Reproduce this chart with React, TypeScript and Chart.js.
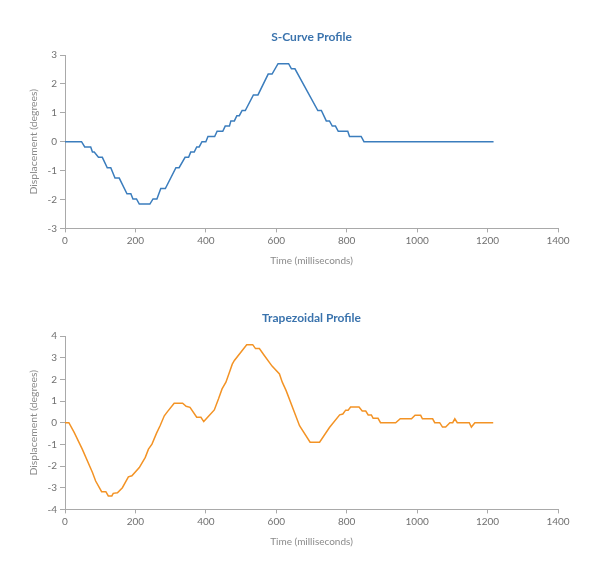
import React, { useEffect, useRef } from "react";
import { Chart, registerables } from "chart.js";

Chart.register(...registerables);

// S-Curve profile (time ms, displacement degrees)
const sCurveTime = [0, 47, 56, 73, 78, 83, 95, 106, 120, 130, 142, 154, 176, 187, 193, 203, 211, 241, 250, 261, 272, 285, 315, 324, 341, 351, 357, 367, 374, 381, 389, 400, 406, 425, 432, 448, 455, 467, 471, 481, 488, 495, 503, 512, 535, 548, 577, 588, 605, 635, 643, 653, 718, 728, 742, 751, 759, 768, 776, 803, 808, 841, 849, 1217];
const sCurveDisp = [0, 0, -0.18, -0.18, -0.36, -0.36, -0.54, -0.54, -0.9, -0.9, -1.26, -1.26, -1.8, -1.8, -1.98, -1.98, -2.16, -2.16, -1.98, -1.98, -1.62, -1.62, -0.9, -0.9, -0.54, -0.54, -0.36, -0.36, -0.18, -0.18, 0, 0, 0.18, 0.18, 0.36, 0.36, 0.54, 0.54, 0.72, 0.72, 0.9, 0.9, 1.08, 1.08, 1.62, 1.62, 2.34, 2.34, 2.7, 2.7, 2.52, 2.52, 1.08, 1.08, 0.72, 0.72, 0.54, 0.54, 0.36, 0.36, 0.18, 0.18, 0, 0];

// Trapezoidal profile (time ms, displacement degrees)
const trapTime = [0, 11, 26, 49, 78, 87, 104, 116, 123, 133, 137, 149, 163, 180, 190, 211, 228, 237, 247, 260, 270, 282, 291, 310, 334, 344, 355, 374, 386, 394, 405, 424, 436, 446, 457, 467, 475, 481, 516, 533, 541, 552, 566, 588, 609, 617, 628, 666, 696, 723, 751, 780, 789, 797, 804, 811, 835, 844, 854, 861, 870, 875, 889, 896, 939, 952, 984, 994, 1010, 1015, 1044, 1050, 1064, 1072, 1081, 1093, 1101, 1107, 1114, 1148, 1154, 1164, 1216];
const trapDisp = [0, 0, -0.45, -1.22, -2.3, -2.69, -3.18, -3.18, -3.38, -3.38, -3.26, -3.23, -3.0, -2.5, -2.45, -2.07, -1.6, -1.22, -0.99, -0.48, -0.14, 0.32, 0.51, 0.9, 0.9, 0.76, 0.71, 0.25, 0.25, 0.05, 0.25, 0.59, 1.1, 1.56, 1.87, 2.33, 2.7, 2.87, 3.6, 3.6, 3.42, 3.42, 3.1, 2.61, 2.25, 1.87, 1.48, -0.14, -0.9, -0.9, -0.22, 0.36, 0.4, 0.58, 0.58, 0.72, 0.72, 0.54, 0.54, 0.36, 0.36, 0.2, 0.2, 0, 0, 0.18, 0.18, 0.34, 0.34, 0.18, 0.18, 0, 0, -0.2, -0.2, 0, 0, 0.18, 0, 0, -0.2, 0, 0];

const xTicks = [0, 200, 400, 600, 800, 1000, 1200, 1400];

const AXIS_GRAY = "#a9a9a9";
const TICK_GRAY = "#707070";
const TITLE_GRAY = "#8a8a8a";

function makeConfig(title: string, times: number[], values: number[], color: string, yMin: number, yMax: number): any {
  const data = times.map((t, i) => ({ x: t, y: values[i] }));
  return {
    type: "line",
    data: {
      datasets: [
        {
          data,
          borderColor: color,
          backgroundColor: color,
          borderWidth: 1.5,
          pointRadius: 0,
          tension: 0,
          fill: false,
        },
      ],
    },
    options: {
      responsive: false,
      animation: false,
      layout: { padding: { left: 15.4, right: 34, top: 0, bottom: 18 } },
      plugins: {
        legend: { display: false },
        tooltip: { enabled: false },
        title: {
          display: true,
          text: title,
          fullSize: false,
          color: "#3a73ad",
          font: { family: "Lato", size: 12, weight: "bold", lineHeight: 1.2 },
          padding: { top: 22, bottom: 10.6 },
        },
      },
      scales: {
        x: {
          type: "linear",
          min: 0,
          max: 1400,
          afterBuildTicks: (s: any) => {
            s.ticks = xTicks.map((v) => ({ value: v }));
          },
          afterFit: (s: any) => {
            s.height = 42.6;
          },
          grid: { display: true, drawOnChartArea: false, drawTicks: true, tickLength: 4, color: AXIS_GRAY },
          border: { display: true, color: AXIS_GRAY, width: 1 },
          ticks: {
            color: TICK_GRAY,
            font: { family: "Lato", size: 10 },
            padding: 2,
            maxRotation: 0,
            callback: (v: any) => String(v),
          },
          title: {
            display: true,
            text: "Time (milliseconds)",
            color: TITLE_GRAY,
            font: { family: "Lato", size: 10, lineHeight: 1.2 },
            padding: { top: 4, bottom: 4 },
          },
        },
        y: {
          type: "linear",
          min: yMin,
          max: yMax,
          ticks: { stepSize: 1, color: TICK_GRAY, font: { family: "Lato", size: 10 }, padding: 3, callback: (v: any) => String(v) },
          afterFit: (s: any) => {
            s.width = 41.6;
          },
          grid: { display: true, drawOnChartArea: false, drawTicks: true, tickLength: 5, color: AXIS_GRAY },
          border: { display: true, color: AXIS_GRAY, width: 1 },
          title: {
            display: true,
            text: "Displacement (degrees)",
            color: TITLE_GRAY,
            font: { family: "Lato", size: 10.4, lineHeight: 1.2 },
            padding: { top: 4, bottom: 4 },
          },
        },
      },
    },
  };
}

function LineChart(props: { title: string; times: number[]; values: number[]; color: string; yMin: number; yMax: number }) {
  const ref = useRef<HTMLCanvasElement | null>(null);
  useEffect(() => {
    if (!ref.current) return;
    const chart = new Chart(ref.current, makeConfig(props.title, props.times, props.values, props.color, props.yMin, props.yMax));
    return () => chart.destroy();
  }, []);
  return <canvas ref={ref} width={584} height={281} style={{ display: "block", width: 584, height: 281 }} />;
}

export default function App() {
  return (
    <div style={{ width: 584, background: "#fff" }}>
      <LineChart title="S-Curve Profile" times={sCurveTime} values={sCurveDisp} color="#3b7dbd" yMin={-3} yMax={3} />
      <LineChart title="Trapezoidal Profile" times={trapTime} values={trapDisp} color="#f39325" yMin={-4} yMax={4} />
    </div>
  );
}
